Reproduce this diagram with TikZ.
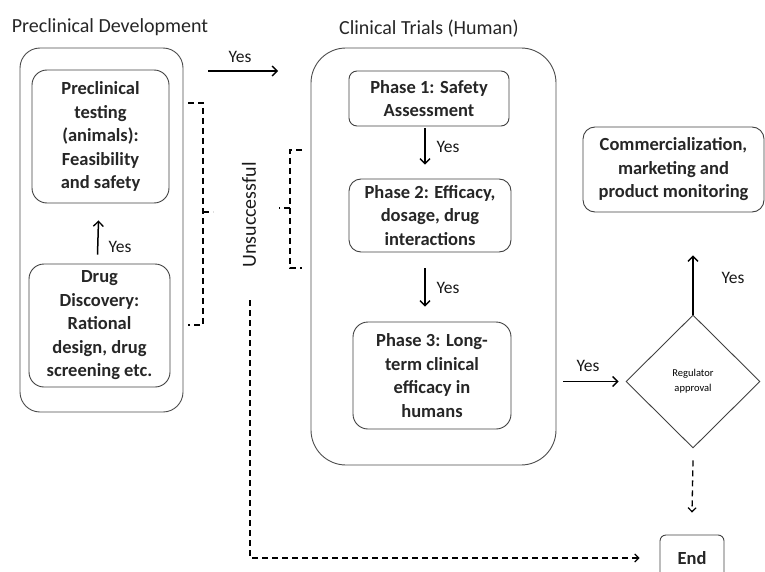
\documentclass[tikz,border=0pt]{standalone}
\usepackage{fontspec}
\setmainfont{Carlito}
\usetikzlibrary{shapes.geometric,arrows.meta}
\begin{document}
\begin{tikzpicture}[x=1pt,y=-1pt,
  box/.style={draw=black!75, line width=0.9pt, rectangle, align=center, inner sep=0pt,
    font=\fontsize{18.5}{23.5}\selectfont\bfseries, text=black!85},
  outer/.style={draw=black!70, line width=0.9pt, rectangle, inner sep=0pt},
  ttl/.style={font=\fontsize{20}{24}\selectfont, text=black!85},
  lbl/.style={font=\fontsize{17.5}{20}\selectfont, text=black!90},
  arr/.style={line width=1.5pt, -{Straight Barb[length=5pt,width=10pt,line width=1.3pt]}},
  dsh/.style={line width=1.3pt, dash pattern=on 6pt off 4pt},
  darr/.style={dsh, -{Straight Barb[length=4pt,width=8pt,line width=1.2pt]}}
]
\useasboundingbox (0,0) rectangle (765,572);
\clip (0,0) rectangle (765,572);

% titles
\node[ttl] (t1) at (110,27) {Preclinical Development};
\node[ttl] (t2) at (429,29) {Clinical Trials (Human)};

% left group
\node[outer, rounded corners=20pt, minimum width=163pt, minimum height=364pt] (outerL) at (101.5,230) {};
\node[box, rounded corners=15pt, minimum width=137pt, minimum height=133pt] (pre) at (100.5,136.5)
  {Preclinical\\testing\\(animals):\\Feasibility\\and safety};
\node[box, rounded corners=15pt, minimum width=141pt, minimum height=123pt] (disc) at (99.5,325.5)
  {Drug\\Discovery:\\Rational\\design, drug\\screening etc.};

% clinical group
\node[outer, rounded corners=35pt, minimum width=245pt, minimum height=417pt] (outerC) at (433.5,256.5) {};
\node[box, rounded corners=8pt, minimum width=160pt, minimum height=55pt] (ph1) at (429,98.5)
  {Phase 1: Safety\\Assessment};
\node[box, rounded corners=12pt, minimum width=162pt, minimum height=73pt] (ph2) at (430,215.5)
  {Phase 2: Efficacy,\\dosage, drug\\interactions};
\node[box, rounded corners=15pt, minimum width=158pt, minimum height=107pt] (ph3) at (432,375.5)
  {Phase 3: Long-\\term clinical\\efficacy in\\humans};

% right
\node[box, rounded corners=12pt, minimum width=181pt, minimum height=85pt] (comm) at (673.5,169.5)
  {Commercialization,\\marketing and\\product monitoring};
\node[draw=black!75, line width=0.9pt, diamond, inner sep=0pt, minimum width=134pt, minimum height=133pt,
  align=center, font=\fontsize{10.5}{15}\selectfont] (reg) at (693,381.5) {Regulator\\approval};
\node[box, rounded corners=6pt, minimum width=64pt, minimum height=46pt] (end) at (692,558) {End};

% solid arrows
\coordinate (y1s) at (208,71);
\coordinate (y1e) at (278,71);
\draw[arr] (y1s) -- (y1e);
\node[lbl] (ly1) at (240,57) {Yes};

\draw[arr] ([xshift=-2pt,yshift=9pt]disc.north) -- ([xshift=-2pt,yshift=-17pt]pre.south);
\node[lbl] (ly2) at (120,247) {Yes};

\draw[arr] ([xshift=-4pt,yshift=-2pt]ph1.south) -- ([xshift=-5pt,yshift=14pt]ph2.north);
\node[lbl] (ly3) at (448,147) {Yes};

\draw[arr] ([xshift=-5pt,yshift=-16pt]ph2.south) -- ([xshift=-7pt,yshift=15pt]ph3.north);
\node[lbl] (ly4) at (448,288) {Yes};

\draw[arr] ([xshift=7pt]outerC.east |- reg) -- ([xshift=-7pt]reg.west);
\node[lbl] (ly5) at (588,366) {Yes};

\draw[arr] (reg.north) -- ([yshift=-43pt]comm.south -| reg.north);
\node[lbl] (ly6) at (733,278) {Yes};

% dashed brackets
\draw[dsh] (188,103) -- (203,103) -- (203,325) -- (188,325);
\draw[dsh] (203,212) -- (213,212);
\draw[dsh] (302,150) -- (290,150) -- (290,268) -- (302,268);
\draw[dsh] (290,208) -- (279,208);

\node[lbl, font=\fontsize{20}{22}\selectfont, rotate=90] (uns) at (249,215) {Unsuccessful};

\coordinate (ustart) at (250,300);
\draw[darr] (ustart) |- ([xshift=-20pt]end.west);
\draw[darr] ([yshift=-12pt]reg.south) -- ([yshift=22pt]end.north);
\end{tikzpicture}
\end{document}
